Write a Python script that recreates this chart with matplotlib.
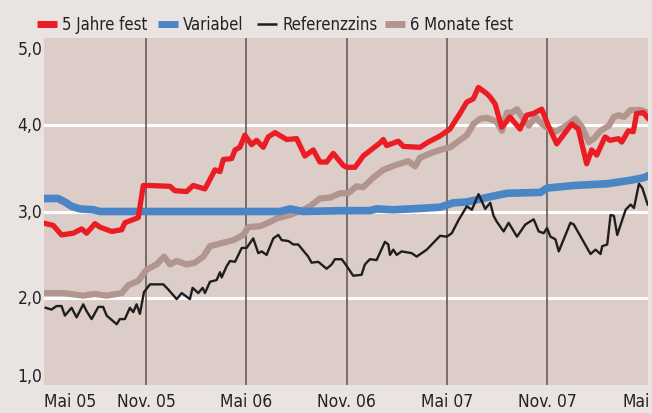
import matplotlib.pyplot as plt
from matplotlib.lines import Line2D

# Zeitachse: Monate seit Anfang Mai 2005
# 5 Jahre fest
m_5j = [0.0, 0.45, 0.95, 1.65, 2.15, 2.45, 2.95, 3.25, 3.95, 4.55, 4.74, 5.54, 5.84, 6.24, 7.44, 7.73,
        8.43, 8.83, 9.53, 10.13, 10.43, 10.63, 11.13, 11.33, 11.62, 11.92, 12.32, 12.62, 13.02, 13.32,
        13.72, 14.42, 15.02, 15.51, 16.01, 16.41, 16.81, 17.21, 17.81, 18.01, 18.51, 19.0, 19.6, 20.0,
        20.2, 20.4, 21.1, 21.4, 22.4, 22.89, 23.59, 24.19, 24.79, 25.19, 25.59, 25.89, 26.39, 26.59,
        26.89, 27.29, 27.78, 28.38, 28.78, 29.18, 29.68, 30.07, 30.58, 31.48, 31.87, 32.37, 32.67,
        32.97, 33.47, 33.77, 34.27, 34.47, 34.86, 35.16, 35.36, 35.76, 36.02]
v_5j = [2.86, 2.84, 2.73, 2.75, 2.80, 2.75, 2.86, 2.82, 2.77, 2.79, 2.87, 2.93, 3.30, 3.30, 3.29, 3.24,
        3.23, 3.30, 3.26, 3.48, 3.46, 3.60, 3.61, 3.71, 3.74, 3.88, 3.77, 3.82, 3.74, 3.86,
        3.91, 3.83, 3.84, 3.64, 3.71, 3.57, 3.57, 3.67, 3.53, 3.51, 3.51, 3.64, 3.73, 3.79,
        3.83, 3.76, 3.81, 3.75, 3.74, 3.80, 3.87, 3.95, 4.13, 4.26, 4.30, 4.43, 4.36, 4.32,
        4.24, 3.97, 4.09, 3.95, 4.11, 4.13, 4.18, 3.99, 3.78, 4.01, 3.95, 3.55, 3.71,
        3.65, 3.86, 3.82, 3.84, 3.80, 3.93, 3.92, 4.13, 4.14, 4.08]

# Variabel
m_var = [0.0, 0.73, 1.15, 1.55, 2.05, 2.85, 3.25, 14.03, 14.63, 15.4, 17.8, 19.4, 19.8, 20.8, 22.8,
         23.6, 24.4, 25.2, 26.6, 27.6, 29.6, 30.0, 31.6, 33.6, 35.0, 35.8, 36.04]
v_var = [3.15, 3.15, 3.11, 3.06, 3.03, 3.02, 3.00, 3.00, 3.03, 3.00, 3.01, 3.01, 3.03, 3.02, 3.04,
         3.05, 3.10, 3.11, 3.17, 3.21, 3.22, 3.27, 3.30, 3.32, 3.36, 3.39, 3.41]

# Referenzzins
m_ref = [0.0, 0.35, 0.65, 0.95, 1.15, 1.55, 1.85, 2.25, 2.45, 2.75, 3.15, 3.44, 3.65, 4.25, 4.44, 4.74,
         5.04, 5.24, 5.44, 5.64, 5.88, 6.24, 7.04, 7.34, 7.84, 8.14, 8.63, 8.79, 9.13, 9.39, 9.53,
         9.83, 10.23, 10.43, 10.53, 10.83, 11.03, 11.33, 11.73, 12.02, 12.42, 12.72, 12.92, 13.22,
         13.62, 13.92, 14.12, 14.52, 14.82, 15.11, 15.71, 15.91, 16.31, 16.81, 17.11, 17.31, 17.71,
         17.91, 18.4, 18.9, 19.1, 19.4, 19.8, 20.3, 20.5, 20.6, 20.8, 21.0, 21.3, 21.9, 22.2, 22.8,
         23.6, 24.0, 24.3, 24.7, 25.2, 25.5, 25.9, 26.3, 26.6, 26.8, 27.0, 27.4, 27.7, 28.2, 28.7,
         29.2, 29.5, 29.8, 30.0, 30.2, 30.5, 30.7, 31.4, 31.6, 32.6, 32.9, 33.2, 33.3, 33.6, 33.8,
         34.0, 34.2, 34.7, 35.0, 35.2, 35.5, 35.7, 36.02]
v_ref = [1.89, 1.87, 1.91, 1.91, 1.80, 1.89, 1.78, 1.93, 1.85, 1.76, 1.90, 1.90, 1.80, 1.70, 1.76, 1.76,
         1.89, 1.84, 1.93, 1.82, 2.07, 2.16, 2.16, 2.10, 1.99, 2.06, 1.99, 2.12, 2.06, 2.12, 2.06,
         2.19, 2.21, 2.30, 2.24, 2.37, 2.43, 2.42, 2.58, 2.58, 2.69, 2.52, 2.54, 2.50,
         2.69, 2.73, 2.67, 2.66, 2.62, 2.62, 2.48, 2.41, 2.42, 2.34, 2.39, 2.45, 2.45,
         2.40, 2.26, 2.27, 2.39, 2.45, 2.44, 2.65, 2.62, 2.50, 2.56, 2.50, 2.54, 2.52, 2.48, 2.56,
         2.72, 2.71, 2.75, 2.90, 3.06, 3.02, 3.20, 3.03, 3.10, 2.95, 2.88, 2.77, 2.87, 2.71, 2.85,
         2.91, 2.77, 2.75, 2.81, 2.71, 2.68, 2.54, 2.87, 2.85, 2.51, 2.56, 2.51, 2.60, 2.62, 2.96,
         2.95, 2.73, 3.02, 3.08, 3.04, 3.32, 3.27, 3.08]

# 6 Monate fest
m_6m = [0.0, 1.05, 2.25, 2.95, 3.65, 4.55, 4.94, 5.54, 6.04, 6.64, 7.08, 7.44, 7.84, 8.43, 8.93,
        9.43, 9.83, 10.63, 11.23, 11.82, 12.12, 12.82, 13.32, 13.82, 14.62, 15.41, 15.81, 16.41,
        17.01, 17.61, 18.1, 18.6, 19.0, 19.6, 20.2, 21.0, 21.7, 22.1, 22.4, 23.0, 23.6, 24.2, 24.7,
        25.2, 25.6, 26.0, 26.4, 26.8, 27.0, 27.3, 27.6, 27.9, 28.2, 28.5, 28.9, 29.3, 29.7, 30.1,
        30.5, 31.0, 31.7, 32.1, 32.5, 32.8, 33.2, 33.7, 34.0, 34.3, 34.6, 35.0, 35.6, 36.02]
v_6m = [2.06, 2.06, 2.03, 2.05, 2.03, 2.06, 2.15, 2.20, 2.33, 2.39, 2.48, 2.39, 2.43, 2.39, 2.41,
        2.48, 2.60, 2.64, 2.67, 2.73, 2.82, 2.83, 2.87, 2.92, 2.96, 3.02, 3.06, 3.15,
        3.16, 3.21, 3.21, 3.29, 3.28, 3.39, 3.48, 3.54, 3.58, 3.52, 3.62, 3.67, 3.71, 3.74, 3.81,
        3.88, 4.01, 4.07, 4.08, 4.05, 4.03, 3.93, 4.14, 4.14, 4.18, 4.09, 3.99, 4.09, 4.01, 3.95,
        3.92, 3.97, 4.07, 3.97, 3.80, 3.84, 3.93, 3.99, 4.09, 4.11, 4.09, 4.17, 4.17, 4.14]

tick_pos = [0, 6, 12, 18, 24, 30, 36]
tick_labels = ["Mai 05", "Nov. 05", "Mai 06", "Nov. 06", "Mai 07", "Nov. 07", "Mai"]
y_ticks = [1, 2, 3, 4, 5]
y_labels = ["1,0", "2,0", "3,0", "4,0", "5,0"]
names = ["5 Jahre fest", "Variabel", "Referenzzins", "6 Monate fest"]

c_red = "#ec1c24"
c_blue = "#4a85c6"
c_black = "#1e1e1e"
c_brown = "#b3958f"

plt.rcParams["font.family"] = ["DejaVu Sans"]
plt.rcParams["font.stretch"] = "condensed"

fig = plt.figure(figsize=(6.52, 4.14), dpi=100)
fig.patch.set_facecolor("#e9e4e1")
ax = fig.add_axes([44 / 652, 1 - 386 / 414, 604 / 652, 347 / 414])
ax.set_facecolor("#dccdc9")

x0, x1 = -0.1, 36.04
ax.set_xlim(x0, x1)
ax.set_ylim(1, 5)

for yv in [2, 3, 4]:
    ax.axhline(yv, color="white", lw=2.2, zorder=1)
for xv in tick_pos[1:-1]:
    ax.axvline(xv, color="#655b5b", lw=1.2, zorder=1)

ax.plot(m_6m, v_6m, color=c_brown, lw=4.5, zorder=2)
ax.plot(m_var, v_var, color=c_blue, lw=5.5, zorder=3)
ax.plot(m_ref, v_ref, color=c_black, lw=1.7, zorder=4)
ax.plot(m_5j, v_5j, color=c_red, lw=3.8, zorder=5)

for s in ax.spines.values():
    s.set_visible(False)
ax.set_xticks([])
ax.set_yticks([])

# Achsenbeschriftung
fs = 12.5
for i, (p, lab) in enumerate(zip(tick_pos, tick_labels)):
    ha = "center"
    xp = p
    if i == 0:
        ha, xp = "left", x0
    elif i == len(tick_pos) - 1:
        ha, xp = "right", x1 + 0.1
    ax.text(xp, -0.02, lab, transform=ax.get_xaxis_transform(), ha=ha, va="top",
            fontsize=fs, color="#222222", clip_on=False)
for yv, lab in zip(y_ticks, y_labels):
    va = "center"
    yp = yv
    if yv == 5:
        va, yp = "top", 4.98
    elif yv == 1:
        va, yp = "bottom", 1.0
    ax.text(-0.003, yp, lab, transform=ax.get_yaxis_transform(), ha="right", va=va,
            fontsize=fs, color="#222222", clip_on=False)

# Legende oben, von Hand gesetzt
leg_colors = [c_red, c_blue, c_black, c_brown]
leg_widths = [5, 5, 1.8, 5]
leg_x = [37, 158, 257, 385]
ly = 1 - 25 / 414
for x, col, w, name in zip(leg_x, leg_colors, leg_widths, names):
    fig.add_artist(Line2D([x / 652, (x + 20) / 652], [ly, ly], color=col, lw=w,
                          solid_capstyle="butt"))
    fig.text((x + 25) / 652, ly, name, ha="left", va="center", fontsize=12, color="#222222")

fig.savefig("out.png", dpi=100, facecolor=fig.get_facecolor())
